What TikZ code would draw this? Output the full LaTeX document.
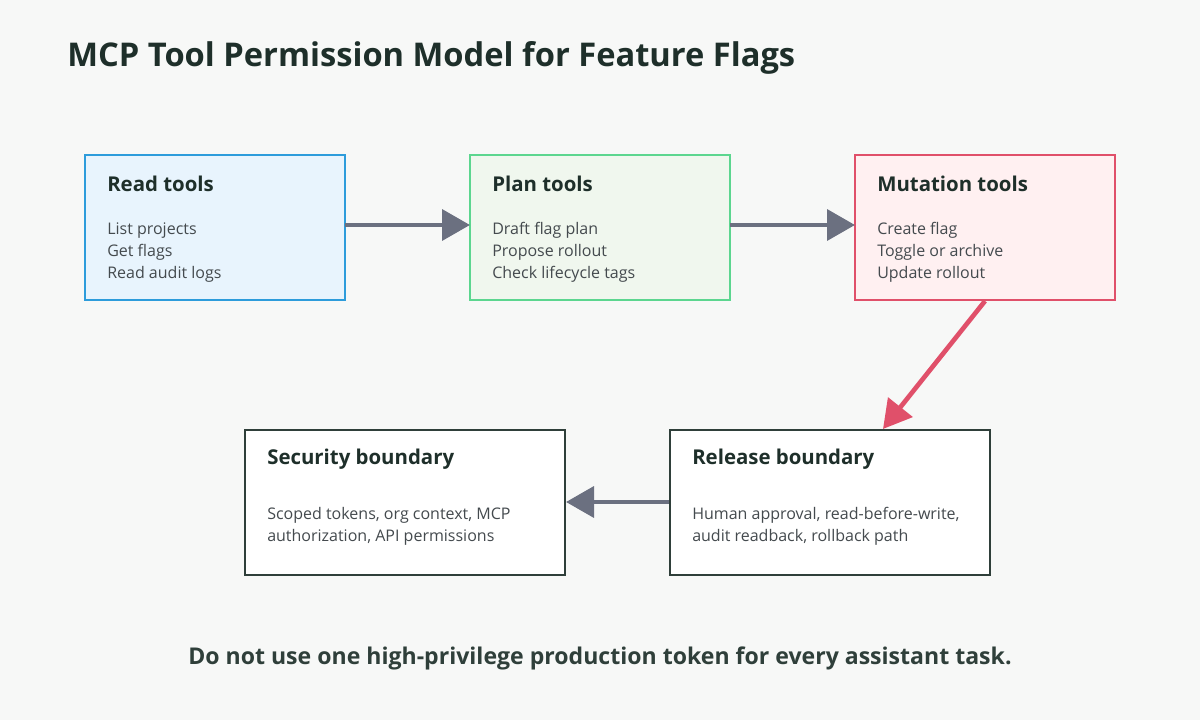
\documentclass[tikz,border=0pt]{standalone}
\usepackage{fontspec}
\setmainfont{Open Sans}
\usetikzlibrary{arrows.meta}
\definecolor{bg}{HTML}{F7F8F7}
\definecolor{ink}{HTML}{1E2F2A}
\definecolor{body}{HTML}{444A4E}
\definecolor{arrg}{HTML}{6B7080}
\definecolor{bluef}{HTML}{E8F4FD}\definecolor{blued}{HTML}{2D9CDB}
\definecolor{greenf}{HTML}{F0F7EE}\definecolor{greend}{HTML}{5CD68F}
\definecolor{redf}{HTML}{FFF0F1}\definecolor{redd}{HTML}{E0506A}
\definecolor{darkb}{HTML}{2F3F3A}
\tikzset{
 boxs/.style={draw, line width=2pt, inner sep=0pt},
 ttl/.style={anchor=west, font=\bfseries\fontsize{15.3}{18}\selectfont, text=ink, inner sep=0pt},
 bdy/.style={anchor=north west, font=\fontsize{12}{16.5}\selectfont, text=body, inner sep=0pt, align=left},
 arr/.style={line width=3.5pt, -{Triangle[length=21pt,width=23pt]}}
}
\begin{document}
\begin{tikzpicture}[x=0.75pt,y=-0.75pt]
\fill[bg] (0,0) rectangle (1200,720);
\useasboundingbox (0,0) rectangle (1200,720);
\node[anchor=west, font=\bfseries\fontsize{24.5}{29}\selectfont, text=ink, inner sep=0pt] (title) at (67,58) {MCP Tool Permission Model for Feature Flags};
\draw[boxs, blued, fill=bluef] (85,155) rectangle (345,300);
\draw[boxs, greend, fill=greenf] (470,155) rectangle (730,300);
\draw[boxs, redd, fill=redf] (855,155) rectangle (1115,300);
\draw[boxs, darkb, fill=white] (245,430) rectangle (565,575);
\draw[boxs, darkb, fill=white] (670,430) rectangle (990,575);
\coordinate (r1) at (345,225); \coordinate (p0) at (470,225);
\coordinate (p1) at (730,225); \coordinate (m0) at (855,225);
\coordinate (m1) at (985,301); \coordinate (rb0) at (883,429);
\coordinate (rb1) at (669,502); \coordinate (sb1) at (566,502);
\node[ttl] (t1) at (107,184) {Read tools};
\node[bdy] (b1) at (107,222) {List projects\\Get flags\\Read audit logs};
\node[ttl] (t2) at (492,184) {Plan tools};
\node[bdy] (b2) at (492,222) {Draft flag plan\\Propose rollout\\Check lifecycle tags};
\node[ttl] (t3) at (877,184) {Mutation tools};
\node[bdy] (b3) at (877,222) {Create flag\\Toggle or archive\\Update rollout};
\node[ttl] (t4) at (267,459) {Security boundary};
\node[bdy] (b4) at (267,507) {Scoped tokens, org context, MCP\\authorization, API permissions};
\node[ttl] (t5) at (692,459) {Release boundary};
\node[bdy] (b5) at (692,507) {Human approval, read-before-write,\\audit readback, rollback path};
\draw[arr, arrg] (r1) -- (p0);
\draw[arr, arrg] (p1) -- (m0);
\draw[arr, redd] (m1) -- (rb0);
\draw[arr, arrg] (rb1) -- (sb1);
\node[font=\bfseries\fontsize{17.3}{20}\selectfont, text=darkb] (foot) at (600,658) {Do not use one high-privilege production token for every assistant task.};
\end{tikzpicture}
\end{document}
